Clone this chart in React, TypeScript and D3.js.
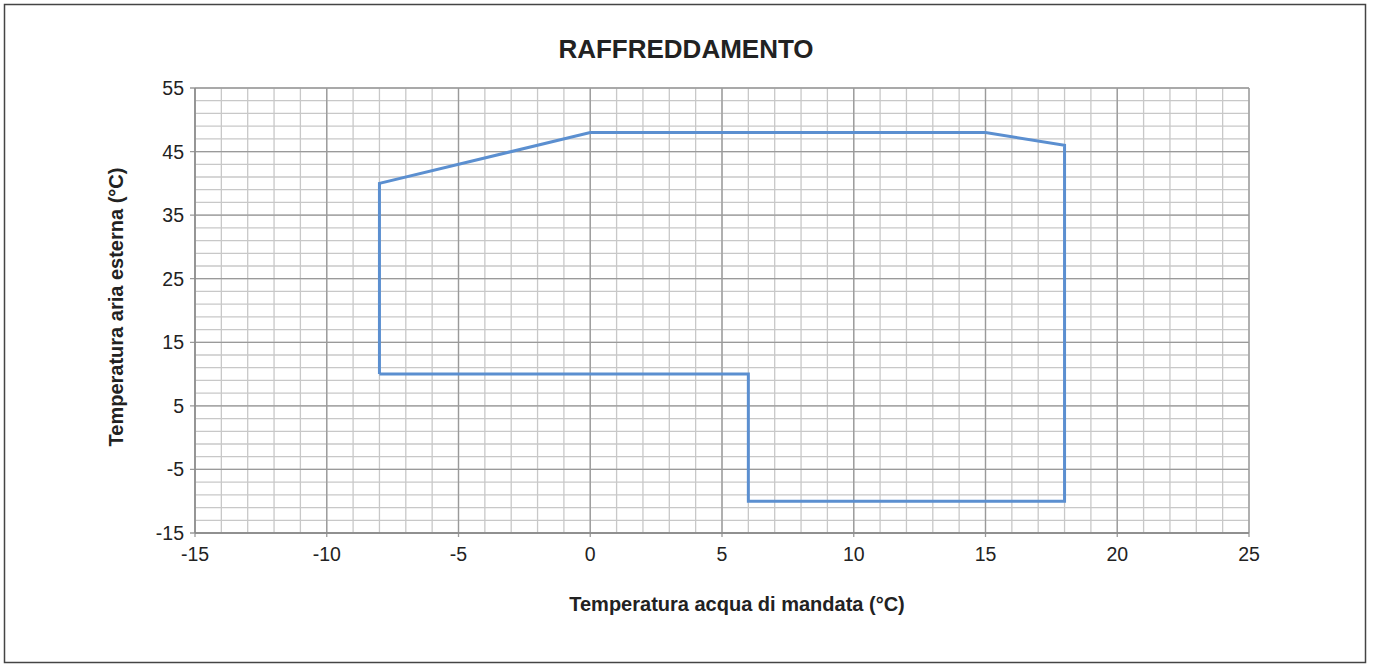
import React from "react";
import * as d3 from "d3";

const title = "RAFFREDDAMENTO";
const xLabel = "Temperatura acqua di mandata (°C)";
const yLabel = "Temperatura aria esterna (°C)";
const xTicks = [-15, -10, -5, 0, 5, 10, 15, 20, 25];
const yTicks = [-15, -5, 5, 15, 25, 35, 45, 55];
const envX = [-8, -8, 0, 15, 18, 18, 6, 6, -8];
const envY = [10, 40, 48, 48, 46, -10, -10, 10, 10];

const W = 1373, H = 666;
const L = 195, R = 1249, T = 88, B = 533;

export default function App() {
  const x = d3.scaleLinear().domain([-15, 25]).range([L, R]);
  const y = d3.scaleLinear().domain([-15, 55]).range([B, T]);
  const minorX = d3.range(-15, 25.001, 1);
  const minorY = d3.range(-15, 55.001, 2);
  const pts: [number, number][] = envX.map((v, i) => [v, envY[i]]);
  const line = d3.line<[number, number]>().x(d => x(d[0])).y(d => y(d[1]));
  const font = "'Liberation Sans', Arial, sans-serif";
  return (
    <svg width={W} height={H} style={{ position: "absolute", left: 0, top: 0, fontFamily: font }}>
      <rect x={0} y={0} width={W} height={H} fill="#fff" />
      <rect x={4.5} y={4.5} width={1361} height={658} fill="none" stroke="#444" strokeWidth={1.5} />
      <text x={686} y={58} textAnchor="middle" fontSize={26} fontWeight="bold" fill="#222">{title}</text>
      {minorX.map(v => (
        <line key={"mx" + v} x1={x(v)} x2={x(v)} y1={T} y2={B} stroke="#c8c8c8" strokeWidth={1.3} />
      ))}
      {minorY.map(v => (
        <line key={"my" + v} x1={L} x2={R} y1={y(v)} y2={y(v)} stroke="#c8c8c8" strokeWidth={1.3} />
      ))}
      {xTicks.map(v => (
        <line key={"Mx" + v} x1={x(v)} x2={x(v)} y1={T} y2={B + 4} stroke="#9a9a9a" strokeWidth={1.3} />
      ))}
      {yTicks.map(v => (
        <line key={"My" + v} x1={L - 5} x2={R} y1={y(v)} y2={y(v)} stroke="#9a9a9a" strokeWidth={1.3} />
      ))}
      <line x1={L} x2={L} y1={T} y2={B} stroke="#888" strokeWidth={1.3} />
      <line x1={L} x2={R} y1={B} y2={B} stroke="#888" strokeWidth={1.3} />
      <path d={line(pts) || ""} fill="none" stroke="#5b8fd0" strokeWidth={3} strokeLinejoin="miter" />
      {xTicks.map(v => (
        <text key={"xt" + v} x={x(v)} y={561} textAnchor="middle" fontSize={19.5} fill="#222">{v}</text>
      ))}
      {yTicks.map(v => (
        <text key={"yt" + v} x={L - 11} y={y(v) + 7} textAnchor="end" fontSize={19.5} fill="#222">{v}</text>
      ))}
      <text x={737} y={611} textAnchor="middle" fontSize={20} fontWeight="bold" fill="#222">{xLabel}</text>
      <text transform={`translate(123,307) rotate(-90)`} textAnchor="middle" fontSize={20} fontWeight="bold" fill="#222">{yLabel}</text>
    </svg>
  );
}
